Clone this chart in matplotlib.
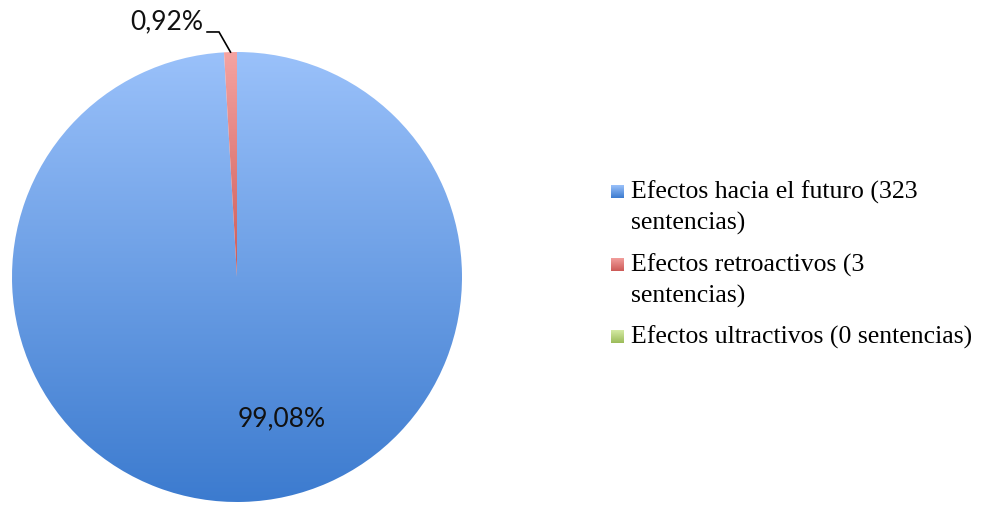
import numpy as np
import matplotlib.pyplot as plt
from matplotlib.colors import LinearSegmentedColormap

# Resoluciones según sus efectos temporales
categorias = [
    "Efectos hacia el futuro (323\nsentencias)",
    "Efectos retroactivos (3\nsentencias)",
    "Efectos ultractivos (0 sentencias)",
]
sentencias = [323, 3, 0]

# gradient stops (top, bottom) for each slice / legend key
degradados = [
    ("#9AC1FA", "#3C7BCF"),
    ("#F5A3A1", "#CC5A57"),
    ("#D9EEAA", "#9BBB59"),
]

W, H = 981, 505
fig = plt.figure(figsize=(W / 100, H / 100), dpi=100)

# pie axes, placed in pixels
cx, cy, r = 237, 277, 225
ax = fig.add_axes([(cx - r) / W, (H - cy - r) / H, 2 * r / W, 2 * r / H])

wedges, _ = ax.pie(sentencias, startangle=90, counterclock=False, radius=1,
                   wedgeprops=dict(linewidth=0, edgecolor="none"))
ax.set_xlim(-1, 1)
ax.set_ylim(-1, 1)
ax.set_aspect("equal")
ax.axis("off")

grad = np.linspace(0, 1, 256).reshape(-1, 1)
for i, (w, (c_top, c_bot), v) in enumerate(zip(wedges, degradados, sentencias)):
    if v == 0:
        w.set_visible(False)
        continue
    w.set_facecolor("none")
    cmap = LinearSegmentedColormap.from_list("g", [c_top, c_bot])
    ext = (-1, 1, -1, 1) if i == 0 else (-1, 1, 0, 1)
    im = ax.imshow(grad, cmap=cmap, aspect="auto", extent=ext,
                   interpolation="bilinear", zorder=1)
    im.set_clip_path(w)

total = sum(sentencias)
pct = [f"{100 * v / total:.2f}".replace(".", ",") + "%" for v in sentencias]

# big slice label
ax.text(0.2, -0.63, pct[0], ha="center", va="center", fontsize=19,
        family="Lato", color="#111111", zorder=3)

# small slice label with an elbow leader line
th = np.deg2rad(90 + 0.5 * 360 * sentencias[1] / total)
px, py = np.cos(th), np.sin(th)
ax.text(-0.151, 1.133, pct[1], ha="right", va="center", fontsize=19,
        family="Lato", color="#111111", clip_on=False)
ax.plot([-0.133, -0.08, px], [1.089, 1.089, py], color="black", lw=1.2,
        clip_on=False, solid_joinstyle="miter")

# legend with gradient keys
baselines = [199, 272, 344]
line_gap = 31
for texto, (c_top, c_bot), y in zip(categorias, degradados, baselines):
    kax = fig.add_axes([611 / W, (H - y + 1) / H, 13 / W, 13 / H])
    kax.imshow(grad, cmap=LinearSegmentedColormap.from_list("k", [c_top, c_bot]),
               aspect="auto", interpolation="bilinear")
    kax.axis("off")
    for j, linea in enumerate(texto.split("\n")):
        fig.text(631 / W, (H - y - j * line_gap) / H, linea, ha="left",
                 va="baseline", fontsize=18.5, family="Liberation Serif")

fig.savefig("out.png", dpi=100)
